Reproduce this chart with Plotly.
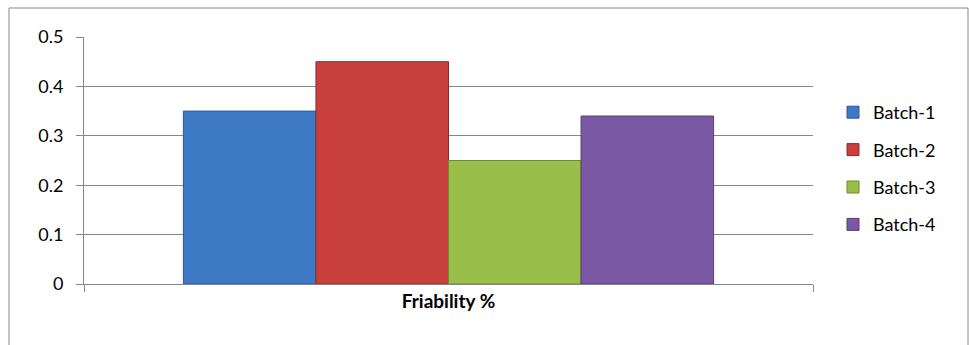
import plotly.graph_objects as go

categories = ["Friability %"]
series_names = ["Batch-1", "Batch-2", "Batch-3", "Batch-4"]
batch1 = [0.35]
batch2 = [0.45]
batch3 = [0.25]
batch4 = [0.34]
series_values = [batch1, batch2, batch3, batch4]
y_ticks = [0, 0.1, 0.2, 0.3, 0.4, 0.5]
y_tick_labels = ["0", "0.1", "0.2", "0.3", "0.4", "0.5"]

fills = ["#3D79C4", "#C93F3C", "#99BF4A", "#7A58A3"]
lines = ["#2B5A94", "#8E2A28", "#6E8C32", "#553C78"]

W, H = 969, 345
L, R, T, B = 84, 813, 37, 284

fig = go.Figure()
for i, (name, vals) in enumerate(zip(series_names, series_values)):
    fig.add_trace(go.Bar(
        x=categories, y=vals, name=name,
        marker=dict(color=fills[i], line=dict(color=lines[i], width=1)),
        legendgroup=name,
    ))

def px2paper_x(px):
    return (px - L) / (R - L)

def px2paper_y(py):
    return (B - py) / (B - T)

fig.update_layout(
    width=W, height=H,
    margin=dict(l=L, r=W - R, t=T, b=H - B, pad=0),
    paper_bgcolor="white", plot_bgcolor="white",
    font=dict(family="Lato, Calibri, sans-serif", size=18, color="#000000"),
    barmode="group", bargap=0.2727, bargroupgap=0,
    showlegend=True,
    legend=dict(
        x=px2paper_x(833), y=px2paper_y(94), xanchor="left", yanchor="top",
        traceorder="grouped", tracegroupgap=11,
        font=dict(size=18), bgcolor="rgba(0,0,0,0)",
    ),
    xaxis=dict(
        type="category", range=[-0.5, 0.5],
        showline=True, linecolor="#868686", linewidth=1,
        ticks="outside", tickson="boundaries", ticklen=7, tickcolor="#868686",
        tickfont=dict(size=19, family="Lato, Calibri, sans-serif"),
        showgrid=False,
    ),
    yaxis=dict(
        range=[0, 0.5], tickvals=y_ticks, ticktext=y_tick_labels,
        showline=True, linecolor="#868686", linewidth=1,
        ticks="outside", ticklen=7, tickcolor="#868686",
        showgrid=True, gridcolor="#868686", gridwidth=1,
        zeroline=False, ticklabelstandoff=9,
    ),
    shapes=[dict(
        type="rect", xref="paper", yref="paper",
        x0=px2paper_x(9), x1=px2paper_x(968),
        y0=px2paper_y(360), y1=px2paper_y(8),
        line=dict(color="#868686", width=1), fillcolor="rgba(0,0,0,0)",
        layer="below",
    )],
)
fig.update_xaxes(ticktext=["<b>Friability %</b>"], tickvals=categories)

fig.write_html("out.html")
